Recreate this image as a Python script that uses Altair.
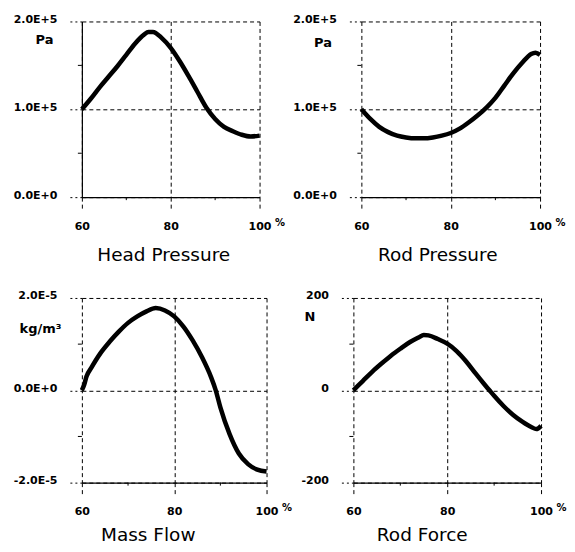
import altair as alt
import pandas as pd

# ---- data ----
X_TICKS = [60, 80, 100]
X_MINOR = [70, 90]

head_x = [60, 62, 64, 66, 68, 70, 72, 74, 75, 76, 78, 80, 82, 84, 86, 88, 90, 92, 94, 96, 98, 100]
head_y = [1.00, 1.12, 1.25, 1.37, 1.49, 1.62, 1.75, 1.85, 1.88, 1.88, 1.81, 1.70, 1.55, 1.38, 1.20, 1.02, 0.89, 0.80, 0.75, 0.71, 0.69, 0.70]

rodp_x = [60, 62, 64, 66, 68, 70, 72, 74, 76, 78, 80, 82, 84, 86, 88, 90, 92, 94, 96, 98, 99, 100]
rodp_y = [1.00, 0.89, 0.80, 0.74, 0.70, 0.68, 0.67, 0.67, 0.68, 0.70, 0.73, 0.78, 0.85, 0.93, 1.02, 1.13, 1.27, 1.41, 1.53, 1.63, 1.645, 1.62]

mass_x = [60, 60.5, 61, 62, 64, 66, 68, 70, 72, 74, 76, 78, 80, 82, 84, 86, 88, 89, 90, 92, 94, 96, 98, 100]
mass_y = [0.00, 0.12, 0.30, 0.48, 0.80, 1.05, 1.27, 1.46, 1.60, 1.71, 1.78, 1.73, 1.60, 1.38, 1.08, 0.72, 0.28, 0.00, -0.37, -0.95, -1.37, -1.60, -1.72, -1.76]

force_x = [60, 62, 64, 66, 68, 70, 72, 74, 75, 76, 78, 80, 82, 84, 86, 88, 89, 90, 92, 94, 96, 98, 99, 100]
force_y = [0, 20, 40, 58, 75, 90, 104, 115, 120, 119, 111, 101, 85, 63, 37, 12, 0, -12, -34, -53, -68, -80, -84, -77]

pa_ticks = [0, 1, 2]
pa_labels = ["0.0E+0", "1.0E+5", "2.0E+5"]
pa_minor = [0.5, 1.5]

mass_ticks = [-2, 0, 2]
mass_labels = ["-2.0E-5", "0.0E+0", "2.0E-5"]
mass_minor = [-1, 1]

force_ticks = [-200, 0, 200]
force_labels = ["-200", "0", "200"]
force_minor = [-100, 100]

FONT = "DejaVu Sans"
DASH = [4, 3]


def label_expr(values, labels):
    expr = "'" + labels[-1] + "'"
    for v, l in reversed(list(zip(values[:-1], labels[:-1]))):
        expr = f"abs(datum.value - ({v})) < 1e-6 ? '{l}' : " + expr
    return expr


def panel(xs, ys, yticks, ylabels, yminor, unit, unit_x, unit_y, title, title_dx,
          title_offset, w, h, left_solid):
    df = pd.DataFrame({"x": xs, "y": ys})
    xsc = alt.Scale(domain=[60, 100], nice=False, zero=False)
    ysc = alt.Scale(domain=[yticks[0], yticks[-1]], nice=False, zero=False)

    xaxis = alt.Axis(
        values=X_TICKS, grid=True, gridDash=DASH, gridColor="black", gridOpacity=1,
        ticks=True, tickDash=DASH, tickSize=14, tickColor="black",
        labelPadding=9, labelFlush=False, labelFont=FONT, labelFontSize=11,
        labelFontWeight="bold", labelColor="black",
        domain=True, domainColor="black", domainWidth=1.2,
        title="%", titleX=w + 15, titleY=25, titleAlign="left", titleBaseline="middle",
        titleFont=FONT, titleFontSize=10, titleFontWeight="bold", titleColor="black",
    )
    yaxis = alt.Axis(
        values=yticks, labelExpr=label_expr(yticks, ylabels),
        grid=True, gridDash=DASH, gridColor="black", gridOpacity=1,
        ticks=True, tickDash=[2, 3], tickSize=15, tickColor="black",
        labelPadding=10, labelOffset=-2, labelFont=FONT, labelFontSize=11,
        labelFontWeight="bold", labelColor="black",
        domain=left_solid, domainColor="black", domainWidth=1.2,
        title=unit, titleAngle=0, titleX=unit_x, titleY=unit_y, titleAlign="center",
        titleBaseline="middle", titleFont=FONT, titleFontSize=13,
        titleFontWeight="bold", titleColor="black",
    )

    line = alt.Chart(df).mark_line(
        color="black", strokeWidth=4.5, interpolate="monotone"
    ).encode(
        x=alt.X("x:Q", scale=xsc, axis=xaxis),
        y=alt.Y("y:Q", scale=ysc, axis=yaxis),
    )
    ymin_df = pd.DataFrame({"y": yminor})
    ytk = alt.Chart(ymin_df).mark_rule(color="black", strokeWidth=1).encode(
        y=alt.Y("y:Q", scale=ysc), x=alt.value(-4), x2=alt.value(0)
    )
    xmin_df = pd.DataFrame({"x": X_MINOR})
    xtk = alt.Chart(xmin_df).mark_rule(color="black", strokeWidth=1).encode(
        x=alt.X("x:Q", scale=xsc), y=alt.value(h), y2=alt.value(h + 3)
    )
    return alt.layer(line, ytk, xtk).properties(
        width=w, height=h,
        title=alt.TitleParams(
            text=title, orient="bottom", anchor="middle", frame="group",
            dx=title_dx, offset=title_offset, baseline="top", font=FONT,
            fontSize=18.5, fontWeight="normal", color="black",
        ),
    )


p1 = panel(head_x, head_y, pa_ticks, pa_labels, pa_minor, "Pa", -38, 18,
           "Head Pressure", -7, 15, 178, 176, True)
p2 = panel(rodp_x, rodp_y, pa_ticks, pa_labels, pa_minor, "Pa", -39, 21,
           "Rod Pressure", -13, 15, 179, 176, False)
p3 = panel(mass_x, mass_y, mass_ticks, mass_labels, mass_minor, "kg/m³", -42, 31,
           "Mass Flow", -26, 9, 185, 185, False)
p4 = panel(force_x, force_y, force_ticks, force_labels, force_minor, "N", -44, 19,
           "Rod Force", -25, 9, 188, 185, False)

top = alt.hconcat(p1, p2, spacing=102, bounds="flush")
bottom = alt.hconcat(p3, p4, spacing=87, bounds="flush")

chart = alt.vconcat(top, bottom, spacing=277, bounds="flush").properties(
    padding={"left": 4, "top": 4, "right": 0, "bottom": 0},
    background="white",
).configure_view(stroke="transparent")

chart.save("out.html", embed_options={"renderer": "svg", "actions": False})
